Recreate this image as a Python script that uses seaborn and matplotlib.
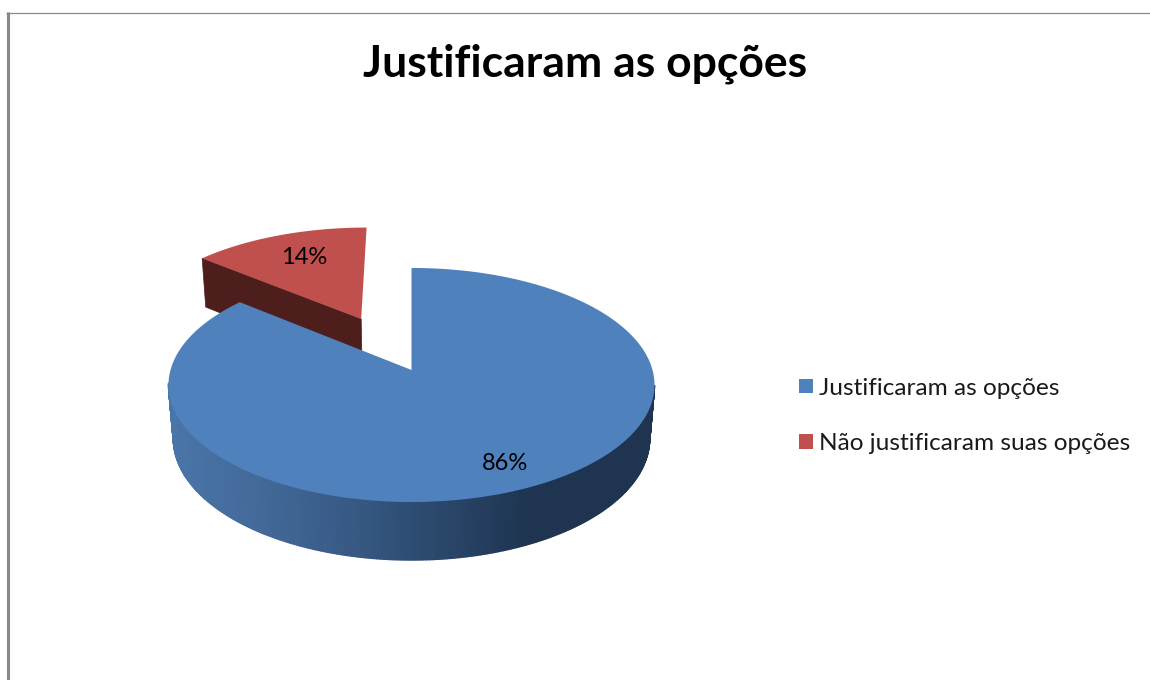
import numpy as np
import matplotlib
matplotlib.use("Agg")
import matplotlib.pyplot as plt
from matplotlib.patches import Patch
import seaborn as sns

# Data
categories = ["Justificaram as opções", "Não justificaram suas opções"]
shares = [86, 14]
labels = ["86%", "14%"]
title = "Justificaram as opções"

# Styling
sns.set_theme(style="white")
plt.rcParams["font.family"] = ["Lato", "DejaVu Sans"]
palette = sns.color_palette(["#4F81BD", "#C0504D"])
side_ramp = sns.blend_palette(["#4A75A8", "#3F6492", "#2E4D73", "#1E3450", "#1E3450"], 100)
red_side = "#4E1E1C"
frame = "#888888"

fig = plt.figure(figsize=(11.5, 6.8), dpi=100)
ax = fig.add_axes([0, 0, 1, 1])
ax.set_xlim(0, 1150)
ax.set_ylim(680, 0)
ax.axis("off")

# Perspective projection of a tilted pie (unit circle, Z = 0 top, Z = 1 bottom)
CX, CY, F, G, H, K, M = 411.5, 370, 241, 115.1, 54.4, 0.128, 0.02


def project(x, y, z=0.0):
    d = 1 + K * y + M * z
    return CX + F * x / d, CY + (-G * y + H * z) / d


def ring(t, ox=0.0, oy=0.0, z=0.0):
    return project(ox + np.sin(t), oy + np.cos(t), z)


fractions = np.array(shares) / sum(shares)
t_blue_end = 2 * np.pi * fractions[0]
t_mid_red = t_blue_end + np.pi * fractions[1]
explode = 0.52
ox, oy = explode * np.sin(t_mid_red), explode * np.cos(t_mid_red)

# Exploded slice: inner dark face, then top
corner = ring(t_blue_end, ox, oy)
corner_b = ring(t_blue_end, ox, oy, 1)
apex = project(ox, oy)
apex_b = project(ox, oy, 1)
ax.fill([corner[0], apex[0], apex_b[0], corner_b[0]],
        [corner[1], apex[1], apex_b[1], corner_b[1]],
        color=red_side, lw=0.5, zorder=1)
t = np.linspace(t_blue_end, 2 * np.pi, 80)
rx, ry = ring(t, ox, oy)
ax.fill(np.r_[apex[0], rx], np.r_[apex[1], ry], color=palette[1], lw=0, zorder=2)

# Main slice: rim with a horizontal gradient (front part only), then top
t = np.linspace(0, t_blue_end, 500)
tx, ty = ring(t)
bx, by = ring(t, z=1)
xmin, xmax = 170, 655
for i in range(len(t) - 1):
    if np.cos(t[i]) > -0.12:
        continue
    u = np.clip((0.5 * (tx[i] + tx[i + 1]) - xmin) / (xmax - xmin), 0, 0.999)
    c = side_ramp[int(u * len(side_ramp))]
    ax.fill([tx[i], tx[i + 1], bx[i + 1], bx[i]],
            [ty[i], ty[i + 1], by[i + 1], by[i]],
            color=c, lw=1.0, zorder=3)
ax.fill(np.r_[CX, tx], np.r_[CY, ty], color=palette[0], lw=0, zorder=4)

# Value labels
ax.text(505, 463, labels[0], ha="center", va="center", fontsize=17, color="black", zorder=6)
ax.text(304, 257, labels[1], ha="center", va="center", fontsize=17, color="black", zorder=6)

# Title
ax.text(585, 64, title, ha="center", va="center", fontsize=32, fontweight="bold", color="black")

# Legend
handles = [Patch(facecolor=palette[i], edgecolor="none", label=categories[i]) for i in range(2)]
leg = ax.legend(handles=handles, loc="center left", bbox_to_anchor=(799 / 1150, 1 - 416 / 680),
                frameon=False, fontsize=17.6, handlelength=0.57, handleheight=0.55,
                handletextpad=0.25, labelspacing=1.43, borderpad=0, borderaxespad=0,
                labelcolor="#1a1a1a")

# Partial frame around the chart
ax.plot([7.5, 7.5], [12, 680], color=frame, lw=2.2, solid_capstyle="butt", zorder=0)
ax.plot([6, 1150], [12.5, 12.5], color=frame, lw=0.9, solid_capstyle="butt", zorder=0)

fig.savefig("out.png", dpi=100)
